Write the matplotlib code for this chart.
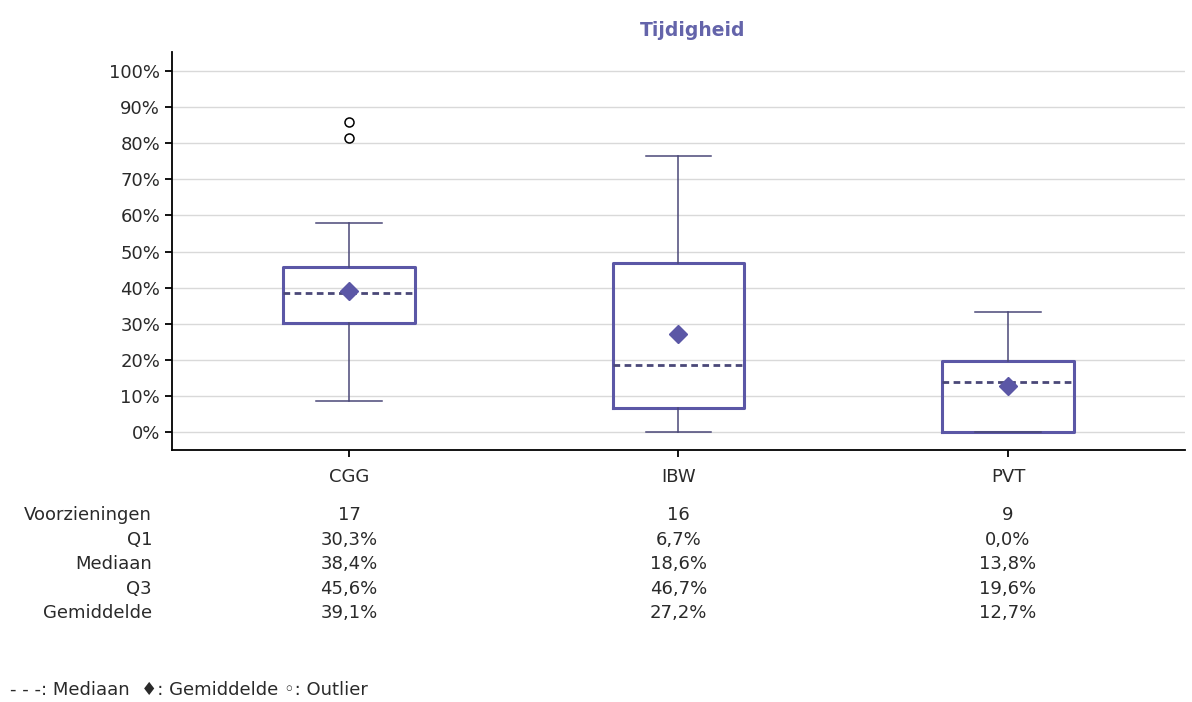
import matplotlib.pyplot as plt
from matplotlib.ticker import FuncFormatter

plt.rcParams['font.family'] = ['DejaVu Sans']

categories = ['CGG', 'IBW', 'PVT']
n_voorz = [17, 16, 9]
whis_lo = [8.5, 0.0, 0.0]
q1 = [30.3, 6.7, 0.0]
median = [38.4, 18.6, 13.8]
q3 = [45.6, 46.7, 19.6]
whis_hi = [57.8, 76.5, 33.3]
mean = [39.1, 27.2, 12.7]
outliers = [[81.5, 86.0], [], []]

purple = '#5b57a6'
dark = '#4a4878'
txt = '#2a2a2a'

stats = []
for i, c in enumerate(categories):
    stats.append(dict(label=c, whislo=whis_lo[i], q1=q1[i], med=median[i], q3=q3[i],
                      whishi=whis_hi[i], mean=mean[i], fliers=outliers[i]))

fig = plt.figure(figsize=(11.92, 7.02), dpi=100)
ax = fig.add_axes([0.1443, 0.359, 0.8498, 0.567])

pos = list(range(len(categories)))
ax.bxp(stats, positions=pos, widths=0.4, showmeans=True, patch_artist=False,
       boxprops=dict(color=purple, linewidth=2.2),
       whiskerprops=dict(color=dark, linewidth=1.1),
       capprops=dict(color=dark, linewidth=1.1),
       capwidths=0.2,
       medianprops=dict(color=dark, linewidth=2, linestyle=(0, (2.4, 1.6))),
       meanprops=dict(marker='D', markerfacecolor=purple, markeredgecolor=purple, markersize=9),
       flierprops=dict(marker='o', markerfacecolor='none', markeredgecolor='black',
                       markersize=6.5, markeredgewidth=1.1))

ax.set_xlim(-0.537, 2.537)
ax.set_ylim(-5, 105.3)
ax.set_yticks(range(0, 101, 10))
ax.yaxis.set_major_formatter(FuncFormatter(lambda v, p: f'{int(v)}%'))
ax.set_xticks(pos)
ax.set_xticklabels(categories)
ax.tick_params(axis='both', labelsize=13, direction='out', length=5, width=1.3,
               colors='black', labelcolor=txt)
ax.tick_params(axis='x', pad=8)
ax.grid(axis='y', color='#d9d9d9', linewidth=1)
ax.set_axisbelow(True)
for s in ['top', 'right']:
    ax.spines[s].set_visible(False)
for s in ['left', 'bottom']:
    ax.spines[s].set_linewidth(1.3)

fig.text(0.581, 0.957, 'Tijdigheid', ha='center', va='center', fontsize=13.5,
         fontweight='bold', color='#6464aa')

# table below the chart
row_labels = ['Voorzieningen', 'Q1', 'Mediaan', 'Q3', 'Gemiddelde']
row_vals = [[str(v) for v in n_voorz],
            [f'{v:.1f}%'.replace('.', ',') for v in q1],
            [f'{v:.1f}%'.replace('.', ',') for v in median],
            [f'{v:.1f}%'.replace('.', ',') for v in q3],
            [f'{v:.1f}%'.replace('.', ',') for v in mean]]
row_y = [515, 540, 564, 589, 613]
for lab, vals, y in zip(row_labels, row_vals, row_y):
    yf = 1 - y / 702
    fig.text(152 / 1192, yf, lab, ha='right', va='center', fontsize=13, color=txt)
    for i, v in enumerate(vals):
        xd = ax.transData.transform((pos[i], 0))[0]
        xf = fig.transFigure.inverted().transform((xd, 0))[0]
        fig.text(xf, yf, v, ha='center', va='center', fontsize=13, color=txt)

fig.text(10 / 1192, 1 - 690 / 702, '- - -: Mediaan  \u2666: Gemiddelde \u25e6: Outlier',
         ha='left', va='center', fontsize=13, color=txt)

plt.savefig('out.png', dpi=100)
